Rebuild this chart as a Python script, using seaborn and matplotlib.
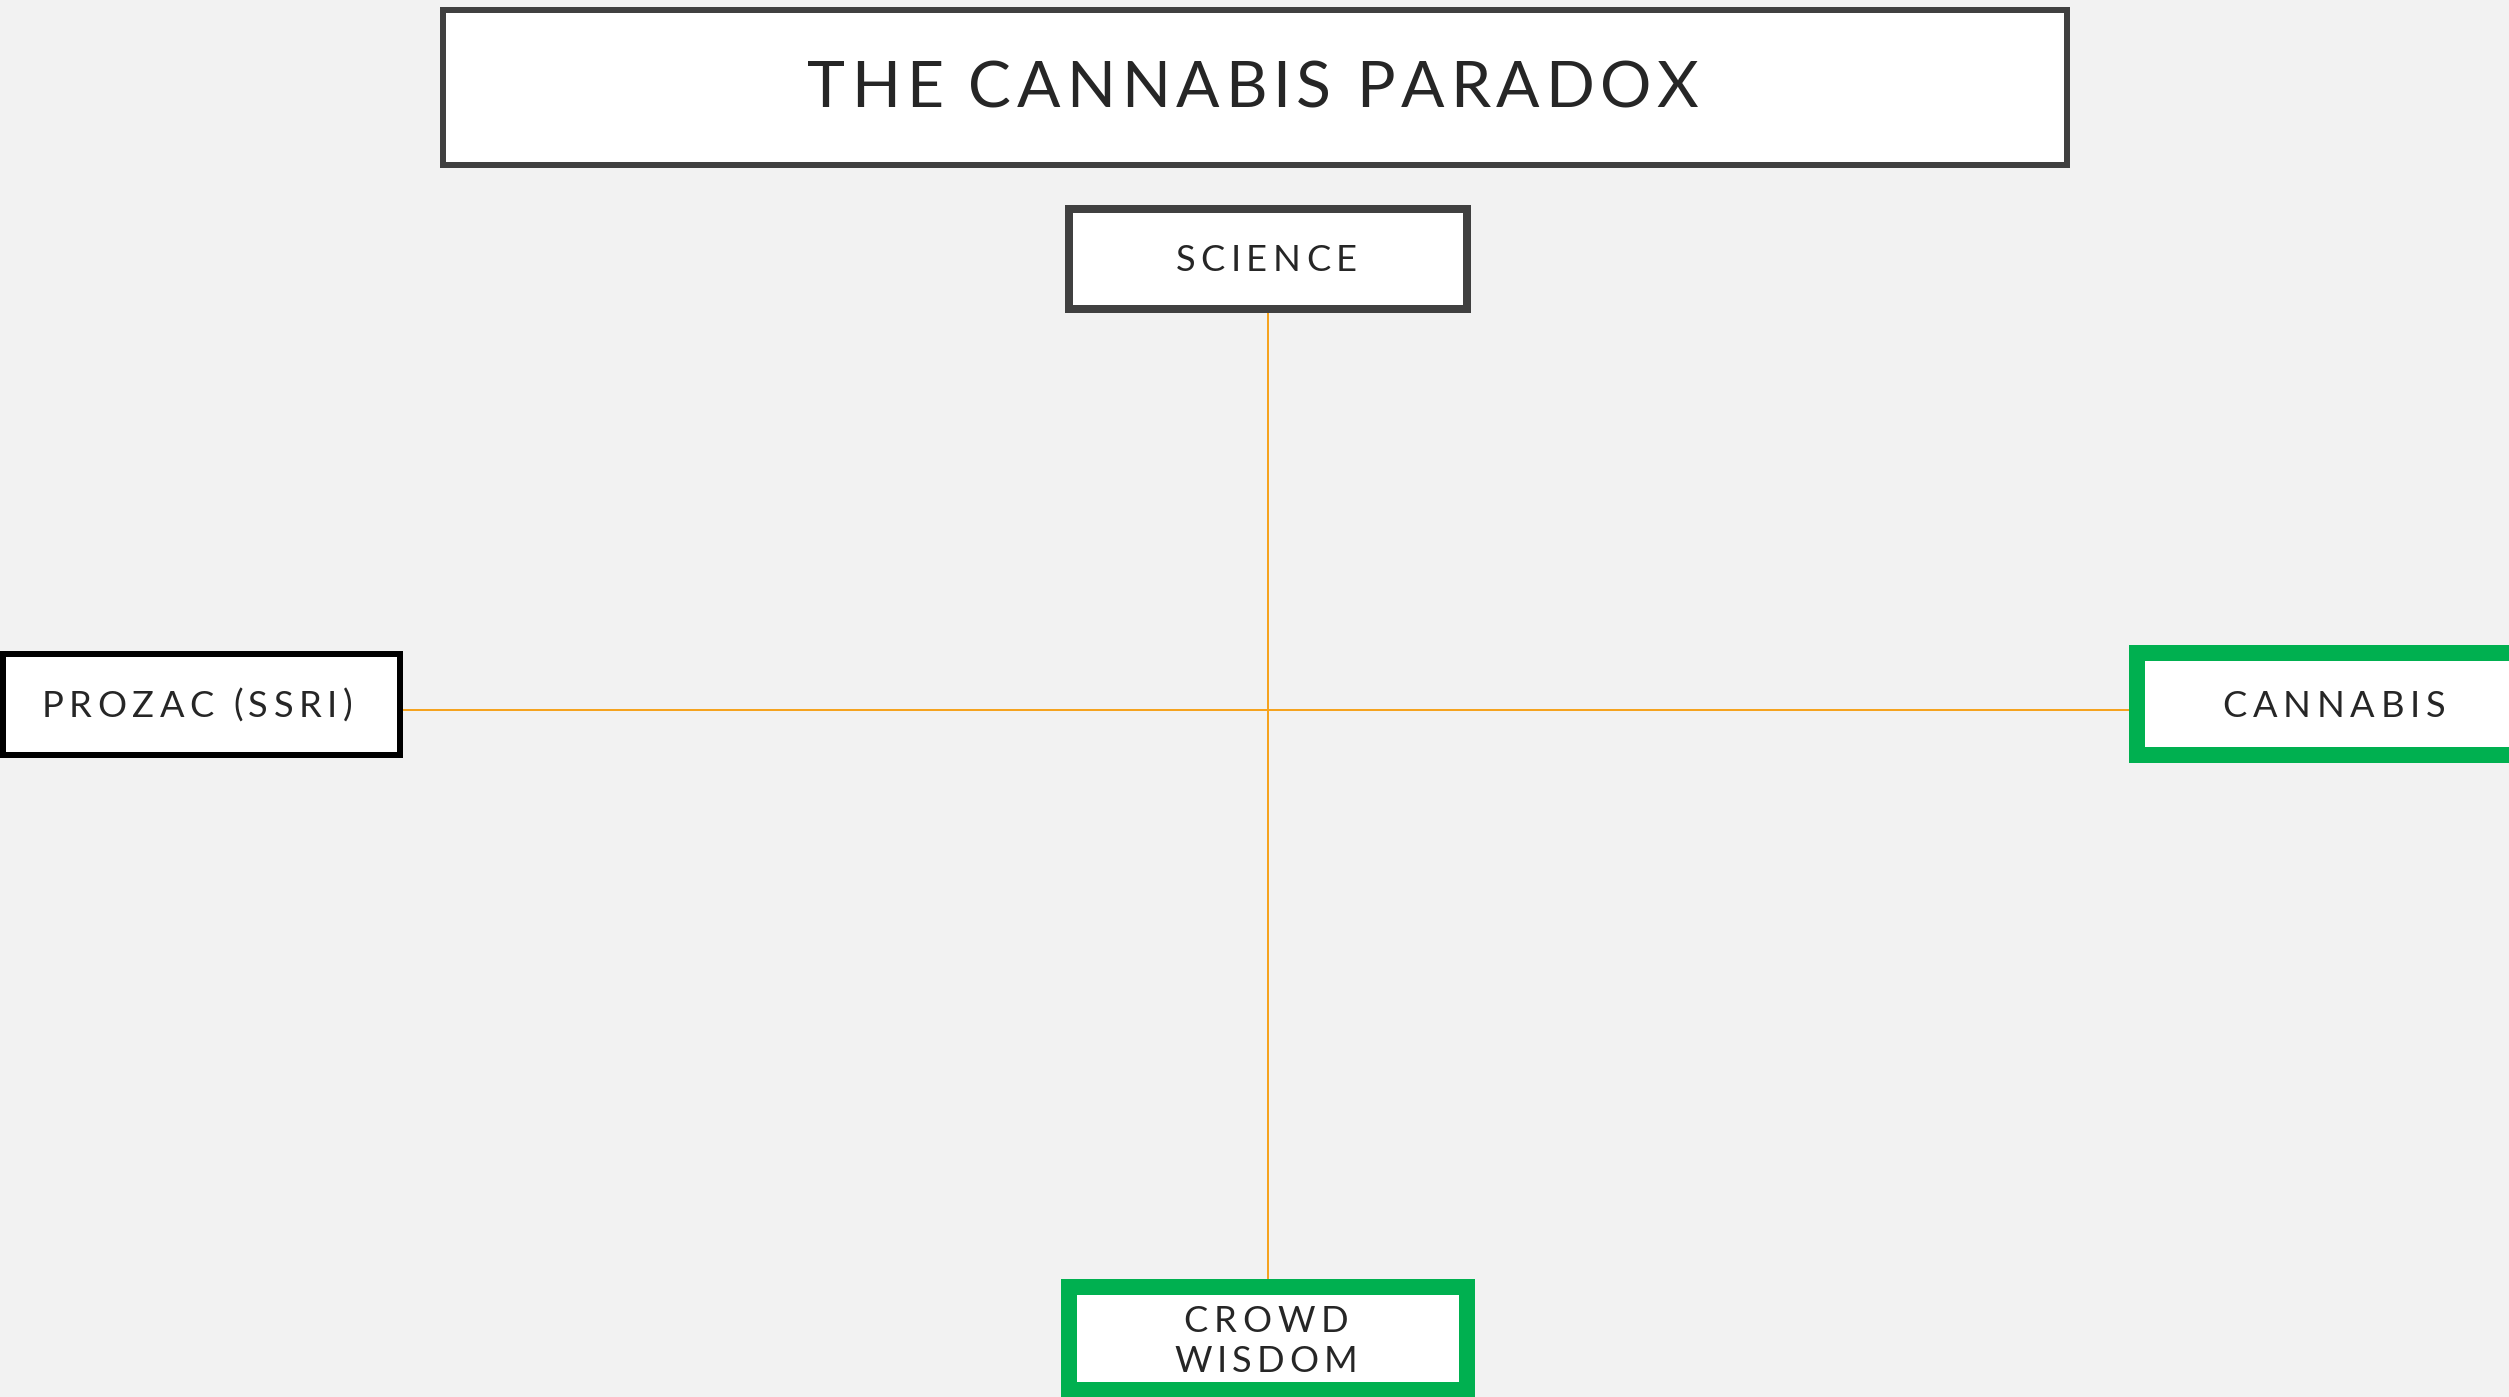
import matplotlib
matplotlib.use("Agg")
import matplotlib.pyplot as plt
import numpy as np
import pandas as pd
import seaborn as sns
from matplotlib.font_manager import FontProperties
from matplotlib.patches import Rectangle

# content
title = "THE CANNABIS PARADOX"
node_names = ["science", "prozac", "cannabis", "crowd"]
node_labels = ["SCIENCE", "PROZAC (SSRI)", "CANNABIS", "CROWD\nWISDOM"]
highlighted = [False, False, True, True]

# layout, in pixels of the 2509x1397 canvas (y grows downward)
W, H = 2509, 1397
box_extent = {
    "title": (440, 7, 2070, 168),
    "science": (1065, 205, 1471, 313),
    "prozac": (0, 651, 403, 758),
    "cannabis": (2129, 645, 2540, 763),
    "crowd": (1061, 1279, 1475, 1398),
}
box_border = {"title": 6, "science": 8, "prozac": 6, "cannabis": 16, "crowd": 16}
# (ink centre x, cap baselines, cap height, ink width of each line)
text_spec = {
    "title": (1253, [107], 46, [891]),
    "science": (1266, [271], 26, [181]),
    "prozac": (197, [717], 26, [311]),
    "cannabis": (2334, [717], 26, [223]),
    "crowd": (1266, [1332, 1372], 26, [165, 183]),
}

BG = "#F2F2F2"
DARK = "#404040"
GREEN = "#00B050"
ORANGE = "#F5A31F"
INK = "#262626"
PX = 72 / 100  # points per pixel at dpi 100

sns.set_theme(style="white", rc={"figure.facecolor": BG, "axes.facecolor": BG})
plt.rcParams["font.family"] = ["Lato", "DejaVu Sans"]

fig = plt.figure(figsize=(W / 100, H / 100), dpi=100)
ax = fig.add_axes([0, 0, 1, 1])

# connecting cross
sx0, sy0, sx1, sy1 = box_extent["science"]
cx0, cy0, cx1, cy1 = box_extent["crowd"]
px0, py0, px1, py1 = box_extent["prozac"]
kx0, ky0, kx1, ky1 = box_extent["cannabis"]
vx = 1268
hy = 710
cross = pd.DataFrame({
    "x": [vx, vx, px1, kx0],
    "y": [sy1, cy0, hy, hy],
    "seg": ["v", "v", "h", "h"],
})
sns.lineplot(data=cross, x="x", y="y", units="seg", estimator=None, sort=False,
             color=ORANGE, lw=2 * PX, ax=ax, zorder=1, legend=False)
ax.set_xlim(0, W)
ax.set_ylim(H, 0)
ax.axis("off")

renderer = fig.canvas.get_renderer()


def ink_width(ch, prop):
    if ch == " ":
        return prop.get_size_in_points() / PX * 0.22
    w, _, _ = renderer.get_text_width_height_descent(ch, prop, ismath=False)
    return w


def draw_tracked(text, cx, baseline, cap, target):
    fsize = cap / 0.7165 * PX
    prop = FontProperties(family=["Lato", "DejaVu Sans"], size=fsize)
    widths = [ink_width(c, prop) for c in text]
    gaps = len(text) - 1
    gap = (target - sum(widths)) / gaps if gaps else 0
    x = cx - target / 2
    for c, w in zip(text, widths):
        if c != " ":
            ax.text(x, baseline, c, fontproperties=prop, color=INK,
                    ha="left", va="baseline", zorder=4)
        x += w + gap


def draw_box(key, edge):
    x0, y0, x1, y1 = box_extent[key]
    lw = box_border[key]
    ax.add_patch(Rectangle((x0 + lw / 2, y0 + lw / 2), x1 - x0 - lw, y1 - y0 - lw,
                           facecolor="white", edgecolor=edge, lw=lw * PX,
                           joinstyle="miter", zorder=3))


draw_box("title", DARK)
cx, bases, cap, targets = text_spec["title"]
draw_tracked(title, cx, bases[0], cap, targets[0])

for name, label, hi in zip(node_names, node_labels, highlighted):
    edge = GREEN if hi else (DARK if name == "science" else "black")
    draw_box(name, edge)
    cx, bases, cap, targets = text_spec[name]
    for line, base, target in zip(label.split("\n"), bases, targets):
        draw_tracked(line, cx, base, cap, target)

fig.savefig("out.png", dpi=100, facecolor=BG)
